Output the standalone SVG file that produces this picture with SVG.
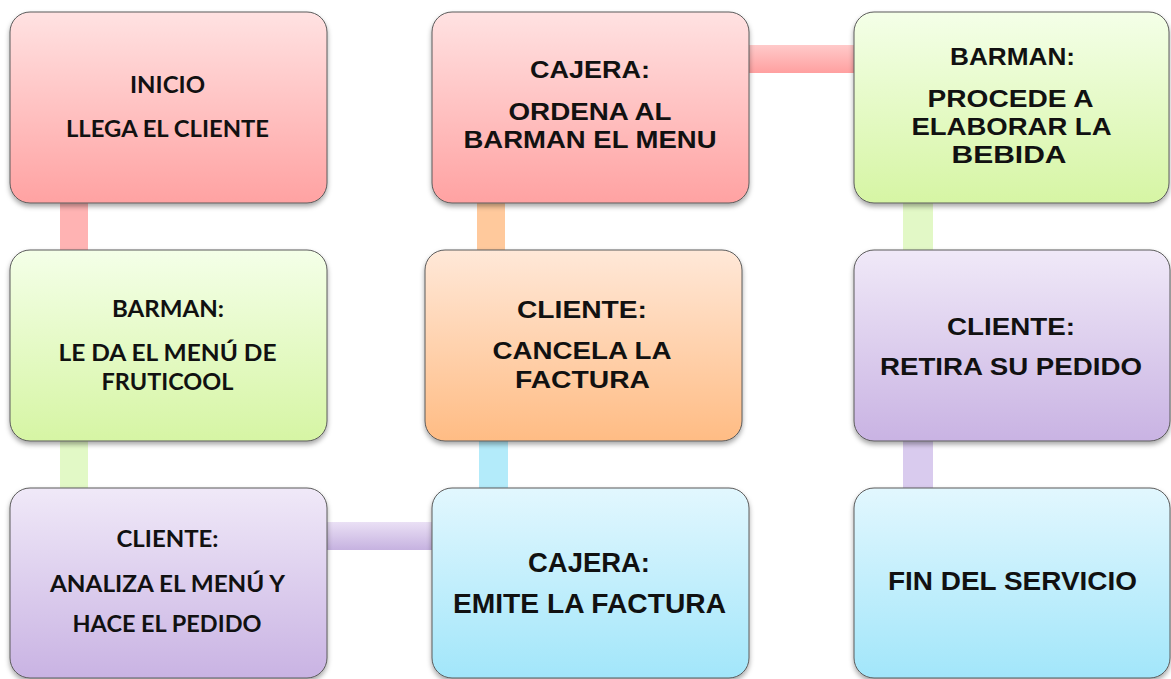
<svg xmlns="http://www.w3.org/2000/svg" width="1171" height="679" viewBox="0 0 1171 679">
<defs>
<linearGradient id="gPink" x1="0" y1="0" x2="0" y2="1"><stop offset="0" stop-color="#FFE2E2"/><stop offset="1" stop-color="#FFA2A2"/></linearGradient>
<linearGradient id="gGreen" x1="0" y1="0" x2="0" y2="1"><stop offset="0" stop-color="#F4FFE8"/><stop offset="1" stop-color="#D6F5A4"/></linearGradient>
<linearGradient id="gPurple" x1="0" y1="0" x2="0" y2="1"><stop offset="0" stop-color="#F0E9F8"/><stop offset="1" stop-color="#C9B3E3"/></linearGradient>
<linearGradient id="gOrange" x1="0" y1="0" x2="0" y2="1"><stop offset="0" stop-color="#FFE8D8"/><stop offset="1" stop-color="#FFBC84"/></linearGradient>
<linearGradient id="gBlue" x1="0" y1="0" x2="0" y2="1"><stop offset="0" stop-color="#E2F7FE"/><stop offset="1" stop-color="#A2E6FA"/></linearGradient>
<linearGradient id="cPinkH" x1="0" y1="0" x2="0" y2="1"><stop offset="0" stop-color="#FFCACA"/><stop offset="1" stop-color="#FFA0A0"/></linearGradient>
<linearGradient id="cPurpleH" x1="0" y1="0" x2="0" y2="1"><stop offset="0" stop-color="#EAE0F5"/><stop offset="1" stop-color="#C6B2E0"/></linearGradient>
<filter id="sh" x="-10%" y="-10%" width="120%" height="125%">
<feDropShadow dx="0" dy="3" stdDeviation="2.5" flood-color="#000" flood-opacity="0.35"/>
</filter>
</defs>
<style>
.box{stroke:#5a5a5a;stroke-width:1;filter:url(#sh)}
.cal{font-family:Lato,"Open Sans",sans-serif;font-weight:bold;font-size:23px;fill:#111;text-anchor:middle}
.ari{font-family:"Liberation Sans",Arial,sans-serif;font-weight:bold;font-size:24px;fill:#111;text-anchor:middle}
.big{font-size:27px}
.mid{font-size:25.5px}
</style>
<rect width="1171" height="679" fill="#ffffff"/>
<g id="connectors">
<rect x="60" y="198" width="28" height="56" fill="#FFB3B3"/>
<rect x="60" y="436" width="28" height="56" fill="#E2F9C6"/>
<rect x="322" y="522" width="115" height="28" fill="url(#cPurpleH)"/>
<rect x="479" y="436" width="29" height="56" fill="#B3EBFA"/>
<rect x="477" y="198" width="28" height="56" fill="#FFC99C"/>
<rect x="744" y="45" width="114" height="28" fill="url(#cPinkH)"/>
<rect x="903" y="198" width="30" height="56" fill="#E2F8C6"/>
<rect x="903" y="436" width="30" height="56" fill="#D9CBEE"/>
</g>
<g id="n1">
<rect class="box" x="10" y="12" width="317" height="191" rx="20" fill="url(#gPink)"/>
<text class="cal" x="167.5" y="93" textLength="75" lengthAdjust="spacingAndGlyphs">INICIO</text>
<text class="cal" x="167.5" y="137" textLength="203" lengthAdjust="spacingAndGlyphs">LLEGA EL CLIENTE</text>
</g>
<g id="n2">
<rect class="box" x="10" y="250" width="317" height="191" rx="20" fill="url(#gGreen)"/>
<text class="cal" x="168" y="317" textLength="112" lengthAdjust="spacingAndGlyphs">BARMAN:</text>
<text class="cal" x="167.5" y="361" textLength="218" lengthAdjust="spacingAndGlyphs">LE DA EL MENÚ DE</text>
<text class="cal" x="167.5" y="390" textLength="132" lengthAdjust="spacingAndGlyphs">FRUTICOOL</text>
</g>
<g id="n3">
<rect class="box" x="10" y="488" width="317" height="190" rx="20" fill="url(#gPurple)"/>
<text class="cal" x="167.5" y="547" textLength="102" lengthAdjust="spacingAndGlyphs">CLIENTE:</text>
<text class="cal" x="167.5" y="592" textLength="235" lengthAdjust="spacingAndGlyphs">ANALIZA EL MENÚ Y</text>
<text class="cal" x="167" y="632" textLength="189" lengthAdjust="spacingAndGlyphs">HACE EL PEDIDO</text>
</g>
<g id="n4">
<rect class="box" x="432" y="12" width="317" height="191" rx="20" fill="url(#gPink)"/>
<text class="ari" x="590" y="78" textLength="120" lengthAdjust="spacingAndGlyphs">CAJERA:</text>
<text class="ari" x="590" y="120" textLength="163" lengthAdjust="spacingAndGlyphs">ORDENA AL</text>
<text class="ari" x="590" y="148" textLength="253" lengthAdjust="spacingAndGlyphs">BARMAN EL MENU</text>
</g>
<g id="n5">
<rect class="box" x="425" y="250" width="317" height="191" rx="20" fill="url(#gOrange)"/>
<text class="ari" x="582" y="318" textLength="130" lengthAdjust="spacingAndGlyphs">CLIENTE:</text>
<text class="ari" x="582" y="359" textLength="179" lengthAdjust="spacingAndGlyphs">CANCELA LA</text>
<text class="ari" x="582.5" y="388" textLength="135" lengthAdjust="spacingAndGlyphs">FACTURA</text>
</g>
<g id="n6">
<rect class="box" x="432" y="488" width="317" height="190" rx="20" fill="url(#gBlue)"/>
<text class="ari big" x="589" y="572" textLength="122" lengthAdjust="spacingAndGlyphs">CAJERA:</text>
<text class="ari big" x="589.5" y="613" textLength="273" lengthAdjust="spacingAndGlyphs">EMITE LA FACTURA</text>
</g>
<g id="n7">
<rect class="box" x="854" y="12" width="315" height="191" rx="20" fill="url(#gGreen)"/>
<text class="ari" x="1012.5" y="65" textLength="125" lengthAdjust="spacingAndGlyphs">BARMAN:</text>
<text class="ari" x="1010.5" y="107" textLength="166" lengthAdjust="spacingAndGlyphs">PROCEDE A</text>
<text class="ari" x="1011.5" y="135" textLength="200" lengthAdjust="spacingAndGlyphs">ELABORAR LA</text>
<text class="ari" x="1009" y="163" textLength="115" lengthAdjust="spacingAndGlyphs">BEBIDA</text>
</g>
<g id="n8">
<rect class="box" x="854" y="250" width="316" height="191" rx="20" fill="url(#gPurple)"/>
<text class="ari" x="1011" y="335" textLength="128" lengthAdjust="spacingAndGlyphs">CLIENTE:</text>
<text class="ari" x="1011" y="375" textLength="262" lengthAdjust="spacingAndGlyphs">RETIRA SU PEDIDO</text>
</g>
<g id="n9">
<rect class="box" x="854" y="488" width="316" height="190" rx="20" fill="url(#gBlue)"/>
<text class="ari mid" x="1012.5" y="590" textLength="249" lengthAdjust="spacingAndGlyphs">FIN DEL SERVICIO</text>
</g>
</svg>
